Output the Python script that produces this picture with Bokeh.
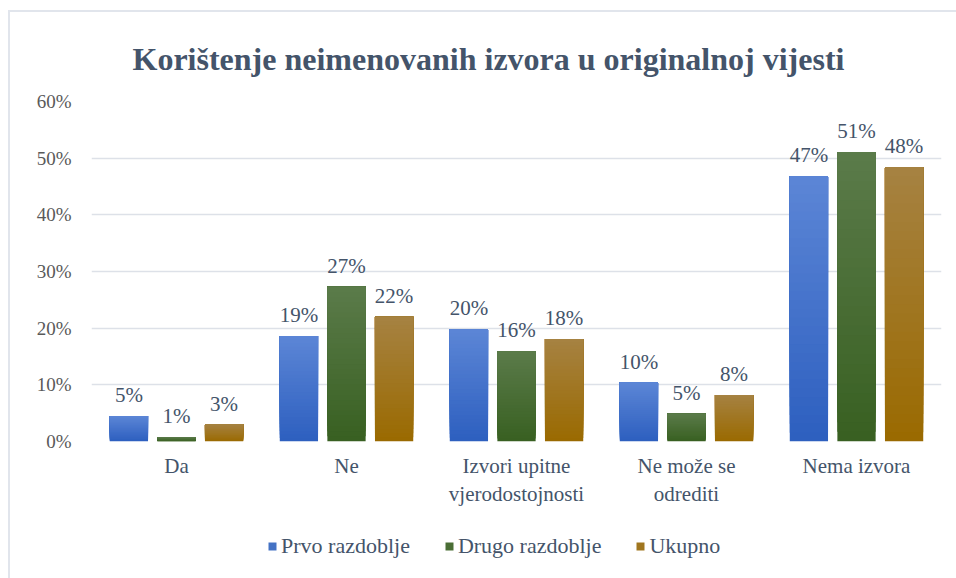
import numpy as np
from bokeh.plotting import figure
from bokeh.layouts import column
from bokeh.models import (ColumnDataSource, FactorRange, NumeralTickFormatter, Legend,
                          LegendItem, FixedTicker)
from bokeh.transform import dodge
from bokeh.core.properties import value
from bokeh.embed import file_html
from bokeh.resources import INLINE

categories = ["Da", "Ne", "Izvori upitne\nvjerodostojnosti", "Ne može se\nodrediti", "Nema izvora"]
series_names = ["Prvo razdoblje", "Drugo razdoblje", "Ukupno"]
prvo = [4.5, 18.6, 19.8, 10.4, 46.8]
drugo = [0.8, 27.3, 15.9, 4.9, 51.1]
ukupno = [3.0, 22.0, 18.1, 8.2, 48.4]
labels_prvo = ["5%", "19%", "20%", "10%", "47%"]
labels_drugo = ["1%", "27%", "16%", "5%", "51%"]
labels_ukupno = ["3%", "22%", "18%", "8%", "48%"]
y_ticks = [0, 0.1, 0.2, 0.3, 0.4, 0.5, 0.6]

series_values = [prvo, drugo, ukupno]
series_labels = [labels_prvo, labels_drugo, labels_ukupno]
top_colors = ["#5c86d6", "#5b7b4a", "#a68242"]
bottom_colors = ["#2d5fbf", "#386021", "#9a6a00"]
legend_colors = ["#4472c4", "#4a6e35", "#a0761f"]
offsets = [-0.28, 0.0, 0.28]
BAR_W = 0.225
SERIF = "'Liberation Serif', 'Times New Roman', serif"
TEXT_COL = "#44546A"

p = figure(x_range=FactorRange(*categories), y_range=(0, 0.6),
           frame_width=850, frame_height=340, output_backend="svg", toolbar_location=None,
           min_border_left=81, min_border_right=15, min_border_top=89, min_border_bottom=75)

p.title.text = "Korištenje neimenovanih izvora u originalnoj vijesti"
p.title.text_font = SERIF
p.title.text_font_size = "32px"
p.title.text_font_style = "bold"
p.title.text_color = TEXT_COL
p.title.align = "left"
p.title.offset = 41
p.title.standoff = 50

p.outline_line_color = None
p.background_fill_color = "white"
p.xgrid.grid_line_color = None
p.ygrid.grid_line_color = "#dde1e8"
p.ygrid.grid_line_width = 1.5
p.yaxis.ticker = FixedTicker(ticks=y_ticks)
p.yaxis.formatter = NumeralTickFormatter(format="0%")

for ax in (p.xaxis, p.yaxis):
    ax.axis_line_color = None
    ax.major_tick_line_color = None
    ax.minor_tick_line_color = None
    ax.major_label_text_font = SERIF
p.yaxis.major_label_text_font_size = "19px"
p.xaxis.major_label_text_font_size = "21px"
p.yaxis.major_label_text_color = "#595959"
p.yaxis.major_label_standoff = 14
p.xaxis.major_label_text_color = TEXT_COL
p.xaxis.major_label_standoff = 6

def hex2rgb(h):
    return np.array([int(h[i:i + 2], 16) for i in (1, 3, 5)], dtype=float)

N = 30
for s in range(3):
    vals = np.array(series_values[s]) / 100.0
    c_top = hex2rgb(top_colors[s])
    c_bot = hex2rgb(bottom_colors[s])
    for i in range(N):
        f0 = i / N
        col = c_bot + (c_top - c_bot) * ((i + 0.5) / N)
        hexcol = "#%02x%02x%02x" % tuple(int(round(c)) for c in col)
        src = ColumnDataSource(dict(x=categories, bottom=vals * f0, top=vals))
        p.vbar(x=dodge("x", offsets[s], range=p.x_range), bottom="bottom", top="top",
               width=BAR_W, source=src, fill_color=hexcol, line_color=None)
    lsrc = ColumnDataSource(dict(x=categories, y=vals, t=series_labels[s]))
    p.text(x=dodge("x", offsets[s], range=p.x_range), y="y", text="t", source=lsrc,
           text_align="center", text_baseline="bottom", y_offset=-9,
           text_font=value(SERIF), text_font_size="21px", text_color=TEXT_COL)

# legend strip below the chart (zero-size stub glyphs only carry the legend swatches)
leg = figure(width=946, height=62, x_range=(0, 1), y_range=(0, 1), output_backend="svg",
             toolbar_location=None, min_border=0)
leg.axis.visible = False
leg.grid.grid_line_color = None
leg.outline_line_color = None
items = []
for s in range(3):
    stub = ColumnDataSource(dict(x=[0.5], top=[0.0]))
    r = leg.vbar(x="x", top="top", width=0.0, source=stub,
                 fill_color=legend_colors[s], line_color=None)
    items.append(LegendItem(label=series_names[s], renderers=[r]))
legend = Legend(items=items, orientation="horizontal", location=(176, 19),
                glyph_width=10, glyph_height=10, label_standoff=4, spacing=34,
                padding=0, margin=0, border_line_color=None, background_fill_alpha=0,
                label_text_font=SERIF, label_text_font_size="22px", label_text_color=TEXT_COL)
leg.add_layout(legend, "center")

layout = column(p, leg, spacing=0, margin=(10, 0, 0, 8),
                styles={"border-left": "2px solid #e1e5ec", "border-top": "2px solid #e1e5ec"})

open("out.html", "w").write(file_html(layout, INLINE))
